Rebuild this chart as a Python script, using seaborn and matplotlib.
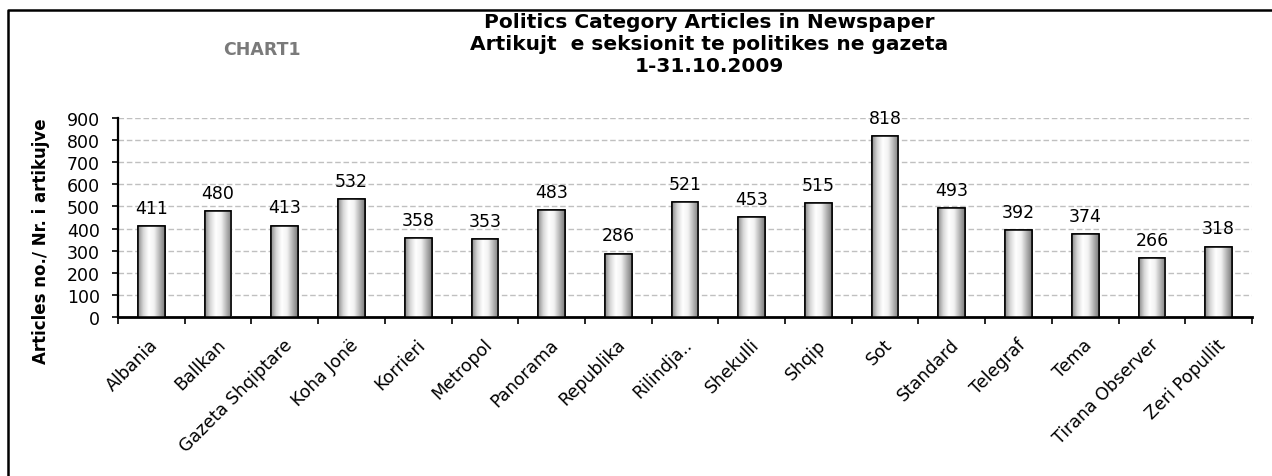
import numpy as np
import pandas as pd
import seaborn as sns
import matplotlib.pyplot as plt
import matplotlib.transforms as mtrans
from matplotlib.colors import LinearSegmentedColormap
from matplotlib.lines import Line2D

# Datos del gráfico
gazetat = ["Albania", "Ballkan", "Gazeta Shqiptare", "Koha Jonë", "Korrieri",
           "Metropol", "Panorama", "Republika", "Rilindja..", "Shekulli",
           "Shqip", "Sot", "Standard", "Telegraf", "Tema", "Tirana Observer",
           "Zeri Popullit"]
artikuj = [411, 480, 413, 532, 358, 353, 483, 286, 521, 453,
           515, 818, 493, 392, 374, 266, 318]
y_ticks = [0, 100, 200, 300, 400, 500, 600, 700, 800, 900]

df = pd.DataFrame({"Gazeta": gazetat, "Artikuj": artikuj})

sns.set_theme(style="white")
plt.rcParams["font.family"] = ["DejaVu Sans"]
plt.rcParams["text.color"] = "black"
plt.rcParams["axes.labelcolor"] = "black"
plt.rcParams["xtick.color"] = "black"
plt.rcParams["ytick.color"] = "black"

fig = plt.figure(figsize=(12.72, 4.77), dpi=100)
ax = fig.add_axes([118 / 1272, 1 - 318 / 477, (1252 - 118) / 1272, (318 - 119) / 477])

ax = sns.barplot(data=df, x="Gazeta", y="Artikuj", color="white",
                 width=0.4, edgecolor="black", linewidth=1.1, ax=ax, zorder=3)

# Efecto cilindro en las barras
cmap = LinearSegmentedColormap.from_list(
    "cil", ["#8a8a8a", "#d8d8d8", "#ffffff", "#f2f2f2", "#b5b5b5", "#7a7a7a"])
grad = np.linspace(0, 1, 256).reshape(1, -1)
for p in list(ax.patches):
    x0, y0 = p.get_x(), p.get_y()
    w, h = p.get_width(), p.get_height()
    im = ax.imshow(grad, extent=[x0, x0 + w, y0, y0 + h], cmap=cmap,
                   aspect="auto", zorder=3.5, interpolation="bicubic")
    im.set_clip_path(p)
    ax.add_patch(plt.Rectangle((x0, y0), w, h, fill=False, edgecolor="black",
                               linewidth=1.1, zorder=4))

ax.set_xlim(-0.5, len(gazetat) - 0.5)
ax.set_ylim(0, 900)
ax.set_yticks(y_ticks)

# Etiquetas de valor
for i, v in enumerate(artikuj):
    ax.text(i, v + 42, f"{v}", ha="center", va="bottom", fontsize=12.5,
            color="black", zorder=5, clip_on=False)

# Cuadrícula punteada
ax.yaxis.grid(True, linestyle=(0, (4, 2)), color="#c0c0c0", linewidth=1)
ax.set_axisbelow(True)

sns.despine(ax=ax)
ax.spines["left"].set_color("black")
ax.spines["bottom"].set_color("black")
ax.spines["left"].set_linewidth(1.6)
ax.spines["bottom"].set_linewidth(2)

# Ticks entre categorías
ax.set_xticks(np.arange(-0.5, len(gazetat), 1.0), minor=True)
ax.tick_params(axis="x", which="major", length=0, pad=13)
ax.tick_params(axis="x", which="minor", length=5, width=1.2, color="black",
               direction="out", bottom=True)
ax.tick_params(axis="y", length=4, width=1.2, color="black", left=True,
               direction="out", pad=9, labelsize=12.5)
ax.set_xticks(range(len(gazetat)))
ax.set_xticklabels(gazetat, rotation=45, ha="right", rotation_mode="anchor",
                   fontsize=12.5)
desplazar = mtrans.ScaledTranslation(-2 / 100, 0, fig.dpi_scale_trans)
for lbl in ax.get_xticklabels():
    lbl.set_transform(lbl.get_transform() + desplazar)

ax.set_xlabel("")
ax.set_ylabel("Articles no./ Nr. i artikujve", fontsize=12, fontweight="bold")
ax.yaxis.set_label_coords((41 - 118) / 1134, (318 - 241) / 199)
ax.yaxis.label.set_va("center")

# Títulos
titulo = ["Politics Category Articles in Newspaper",
          "Artikujt  e seksionit te politikes ne gazeta",
          "1-31.10.2009"]
for linea, ypix in zip(titulo, [23, 45, 66]):
    fig.text(709 / 1272, 1 - ypix / 477, linea, ha="center", va="center",
             fontsize=14.5, fontweight="bold")
fig.text(262 / 1272, 1 - 50 / 477, "CHART1", ha="center", va="center",
         fontsize=12.5, fontweight="bold", color="#7a7a7a")

# Marco del gráfico
fig.add_artist(Line2D([8 / 1272, 8 / 1272, 1.0], [0.0, 1 - 11 / 477, 1 - 11 / 477],
                      transform=fig.transFigure, color="black", linewidth=1.8))

plt.savefig("out.png", dpi=100)
